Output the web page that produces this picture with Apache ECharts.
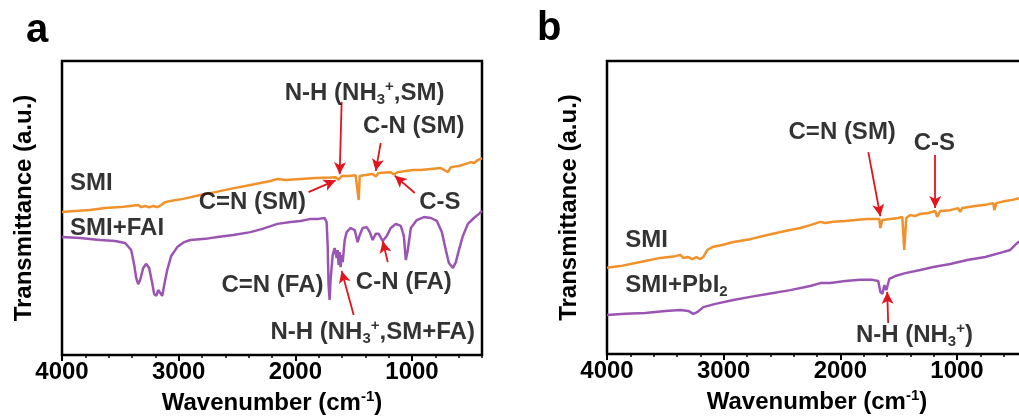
<!DOCTYPE html>
<html>
<head>
<meta charset="utf-8">
<script src="https://cdn.jsdelivr.net/npm/echarts@6/dist/echarts.min.js"></script>
<style>
  html, body { margin: 0; padding: 0; background: #fff; }
  #main { width: 1019px; height: 416px; }
</style>
</head>
<body>
<div id="main"></div>
<script>
// wavenumber (cm-1), transmittance (a.u., 0-100 arbitrary)
const aSmi = [
  [4000, 48.6], [3888, 49.0], [3759, 49.3], [3630, 50.0], [3502, 50.3], [3416, 50.7],
  [3347, 51.0], [3320, 50.3], [3287, 50.7], [3252, 50.2], [3218, 50.7], [3184, 50.3],
  [3150, 51.0], [3115, 52.0], [3072, 52.4], [2960, 53.1], [2814, 54.4], [2686, 55.4],
  [2557, 56.5], [2428, 57.5], [2299, 58.5], [2213, 59.2], [2153, 59.9], [2084, 59.5],
  [1955, 59.9], [1826, 60.2], [1698, 60.4], [1655, 60.5], [1629, 59.6], [1603, 60.9],
  [1543, 60.9], [1483, 61.1], [1466, 60.9], [1457, 52.7], [1448, 60.9], [1397, 61.2],
  [1337, 61.6], [1311, 60.7], [1285, 61.9], [1225, 62.1], [1182, 62.2], [1156, 61.4],
  [1122, 62.2], [1053, 62.6], [993, 62.9], [924, 62.9], [838, 63.3], [753, 63.6],
  [692, 62.2], [667, 63.9], [598, 64.3], [538, 65.0], [495, 65.6], [469, 65.3],
  [435, 66.3], [400, 67.0]
];
const aSmiFai = [
  [4000, 40.1], [3845, 39.8], [3674, 39.1], [3545, 38.8], [3459, 38.1], [3407, 35.7],
  [3381, 30.6], [3364, 26.2], [3347, 24.1], [3330, 25.5], [3304, 29.6], [3278, 31.0],
  [3253, 29.6], [3227, 24.5], [3210, 20.7], [3192, 20.1], [3175, 22.1], [3158, 21.1],
  [3141, 20.1], [3124, 23.8], [3098, 28.9], [3064, 33.7], [3012, 36.7], [2952, 38.4],
  [2900, 39.1], [2771, 39.5], [2668, 40.1], [2531, 40.8], [2385, 41.8], [2282, 42.9],
  [2153, 44.6], [2041, 45.2], [1955, 45.6], [1869, 46.3], [1801, 46.3], [1749, 46.6],
  [1732, 45.2], [1723, 37.4], [1715, 23.8], [1706, 18.7], [1698, 25.5], [1680, 34.0],
  [1663, 36.4], [1646, 33.0], [1637, 35.7], [1629, 30.6], [1620, 35.0], [1612, 29.9],
  [1603, 34.0], [1594, 31.6], [1577, 39.1], [1560, 41.8], [1526, 43.2], [1491, 42.5],
  [1466, 38.4], [1448, 40.8], [1423, 43.2], [1388, 43.5], [1362, 41.8], [1337, 39.1],
  [1311, 41.2], [1285, 41.2], [1251, 38.8], [1216, 40.5], [1182, 43.2], [1139, 44.6],
  [1096, 43.9], [1070, 40.5], [1053, 32.3], [1036, 35.7], [1010, 43.2], [959, 45.9],
  [898, 46.9], [838, 46.6], [787, 45.6], [744, 41.8], [710, 35.7], [684, 31.3],
  [649, 29.6], [624, 31.6], [598, 35.7], [564, 40.5], [521, 44.6], [469, 46.6],
  [426, 48.0], [400, 49.0]
];
const bSmi = [
  [4000, 29.4], [3886, 30.0], [3714, 31.4], [3543, 32.8], [3415, 33.4], [3372, 33.8],
  [3346, 32.8], [3303, 33.1], [3269, 32.4], [3234, 33.1], [3200, 32.4], [3175, 33.1],
  [3140, 35.5], [3097, 36.5], [3012, 37.2], [2917, 38.2], [2772, 39.2], [2626, 40.6],
  [2472, 42.0], [2343, 43.0], [2258, 44.0], [2172, 45.1], [2130, 44.7], [2061, 45.1],
  [1958, 45.4], [1872, 45.7], [1769, 46.1], [1700, 46.1], [1666, 46.1], [1657, 43.0],
  [1640, 45.7], [1572, 46.1], [1503, 46.4], [1469, 46.8], [1452, 35.5], [1435, 46.4],
  [1401, 47.4], [1358, 47.1], [1315, 47.8], [1247, 48.1], [1187, 48.8], [1170, 46.8],
  [1144, 48.8], [1058, 49.1], [990, 49.8], [973, 48.5], [955, 49.8], [843, 50.5],
  [758, 50.9], [689, 51.5], [680, 49.1], [663, 51.5], [586, 52.2], [526, 52.6],
  [483, 53.0], [400, 54.0]
];
const bSmiPbi = [
  [4000, 13.3], [3843, 13.7], [3672, 14.0], [3500, 14.7], [3372, 15.0], [3303, 14.7],
  [3260, 13.7], [3226, 14.3], [3174, 16.0], [3071, 17.1], [2917, 18.4], [2772, 19.5],
  [2626, 20.5], [2429, 21.8], [2258, 23.2], [2172, 24.2], [2086, 24.2], [1958, 24.9],
  [1829, 25.3], [1726, 25.3], [1675, 24.9], [1657, 21.2], [1640, 20.5], [1623, 23.5],
  [1606, 21.8], [1580, 25.6], [1529, 26.6], [1443, 27.6], [1315, 28.7], [1203, 29.7],
  [1058, 30.7], [912, 32.1], [758, 33.1], [630, 34.5], [544, 35.5], [483, 37.9],
  [400, 40.3]
];

// arrows: [fromWn, fromT, toWn, toT]
const aArrows = [
  [1603, 86.1, 1620, 61.5],
  [1268, 72.1, 1311, 62.6],
  [1887, 55.4, 1655, 59.4],
  [976, 55.1, 1148, 61.0],
  [1208, 31.6, 1251, 38.8],
  [1500, 13.6, 1603, 28.6]
];
const bArrows = [
  [1760, 68.9, 1657, 47.0],
  [1187, 67.9, 1187, 49.8],
  [1590, 10.6, 1598, 21.2]
];

// band labels: [text, wn, t]  (_x subscript, ^x superscript)
const aNotes = [
  ['N-H (NH_3^+,SM)', 1406, 89.1],
  ['C-N (SM)', 985, 77.6],
  ['C=N (SM)', 2368, 52.0],
  ['C-S', 761, 52.0],
  ['C-N (FA)', 1070, 24.8],
  ['C=N (FA)', 2196, 23.8],
  ['N-H (NH_3^+,SM+FA)', 1337, 7.8]
];
const bNotes = [
  ['C=N (SM)', 1984, 75.8],
  ['C-S', 1194, 72.0],
  ['N-H (NH_3^+)', 1365, 6.5]
];
// curve names, left aligned
const aTags = [['SMI', 3931, 58.5], ['SMI+FAI', 3931, 43.2]];
const bTags = [['SMI', 3843, 38.9], ['SMI+PbI_2', 3843, 23.5]];

const xTicks = [1000, 2000, 3000, 4000];

const ORANGE = '#F0912A';
const PURPLE = '#9A55B3';
const RED = '#E2141E';
const FONT = 'Liberation Sans';

function toRich(s) {
  return '{t|' + s.replace(/_(\w)/g, '}{s|$1}{t|').replace(/\^(.)/g, '}{p|$1}{t|') + '}';
}

const richStyle = {
  t: { fontSize: 24, fontWeight: 'bold', fontFamily: FONT, color: '#000', lineHeight: 28 },
  s: { fontSize: 15, fontWeight: 'bold', fontFamily: FONT, color: '#000', lineHeight: 6, verticalAlign: 'bottom' },
  p: { fontSize: 15, fontWeight: 'bold', fontFamily: FONT, color: '#000', lineHeight: 16, verticalAlign: 'top' }
};

const chart = echarts.init(document.getElementById('main'), null, { renderer: 'canvas' });

// plot boxes in px, labels allowed to run outside them
const grids = [
  { left: 62, right: 537, top: 61, bottom: 61 },
  { left: 607, right: -8, top: 61, bottom: 62 }
];

function xAxesFor(gi) {
  return [
    {
      gridIndex: gi, type: 'value', min: 400, max: 4000, inverse: true, position: 'bottom',
      axisLine: { show: false },
      axisTick: { show: true, length: 6, customValues: xTicks, lineStyle: { color: '#000', width: 2 } },
      axisLabel: {
        show: true, customValues: xTicks, margin: 5, color: '#000',
        fontSize: 24, fontWeight: 'bold', fontFamily: FONT,
        formatter: v => String(v)
      },
      splitLine: { show: false },
      name: '{t|Wavenumber (cm}{p|-1}{t|)}',
      nameLocation: 'middle', nameGap: 30,
      nameTextStyle: { color: '#000', rich: richStyle }
    },
    {
      gridIndex: gi, type: 'value', min: 400, max: 4000, interval: 200, inverse: true, position: 'bottom',
      axisLine: { show: false },
      axisTick: { show: true, length: 3, lineStyle: { color: '#000', width: 1.5 } },
      axisLabel: { show: false },
      splitLine: { show: false }
    }
  ];
}

function yAxisFor(gi) {
  return {
    gridIndex: gi, type: 'value', min: 0, max: 100,
    axisLine: { show: false }, axisTick: { show: false }, axisLabel: { show: false },
    splitLine: { show: false },
    name: 'Transmittance (a.u.)', nameLocation: 'middle', nameGap: 26,
    nameTextStyle: { fontSize: 24, fontWeight: 'bold', fontFamily: FONT, color: '#000' }
  };
}

function spectrum(data, color, gi) {
  return {
    type: 'line', xAxisIndex: gi * 2, yAxisIndex: gi, data: data,
    showSymbol: false, symbol: 'none', smooth: false,
    lineStyle: { color: color, width: 2.5 }, silent: true, animation: false, z: 3
  };
}

function notes(list, arrows, gi, tags) {
  return {
    type: 'scatter', xAxisIndex: gi * 2, yAxisIndex: gi, symbolSize: 0, silent: true, animation: false, z: 5,
    data: list.map(n => ({ name: n[0], value: [n[1], n[2]] }))
      .concat(tags.map(n => ({
        name: n[0], value: [n[1], n[2]],
        label: { position: 'right', distance: 0 }
      }))),
    label: {
      show: true, position: 'inside', color: '#000',
      formatter: p => toRich(p.name),
      rich: richStyle
    },
    markLine: {
      silent: true, animation: false,
      symbol: ['none', 'arrow'], symbolSize: [9, 12],
      lineStyle: { color: RED, width: 1.8, type: 'solid' },
      label: { show: false },
      data: arrows.map(a => [{ coord: [a[0], a[1]] }, { coord: [a[2], a[3]] }])
    }
  };
}

chart.setOption({
  backgroundColor: '#fff',
  animation: false,
  grid: grids.map(g => Object.assign({
    show: true, borderColor: '#000', borderWidth: 2.5, backgroundColor: 'transparent',
    outerBoundsMode: 'none', containLabel: false
  }, g)),
  xAxis: xAxesFor(0).concat(xAxesFor(1)),
  yAxis: [yAxisFor(0), yAxisFor(1)],
  graphic: [
    { type: 'text', left: 26, top: 11, style: { text: 'a', font: 'bold 40px "Liberation Sans"', fill: '#000' } },
    { type: 'text', left: 537, top: 9, style: { text: 'b', font: 'bold 40px "Liberation Sans"', fill: '#000' } }
  ],
  series: [
    spectrum(aSmi, ORANGE, 0),
    spectrum(aSmiFai, PURPLE, 0),
    notes(aNotes, aArrows, 0, aTags),
    spectrum(bSmi, ORANGE, 1),
    spectrum(bSmiPbi, PURPLE, 1),
    notes(bNotes, bArrows, 1, bTags)
  ]
});
</script>
</body>
</html>
